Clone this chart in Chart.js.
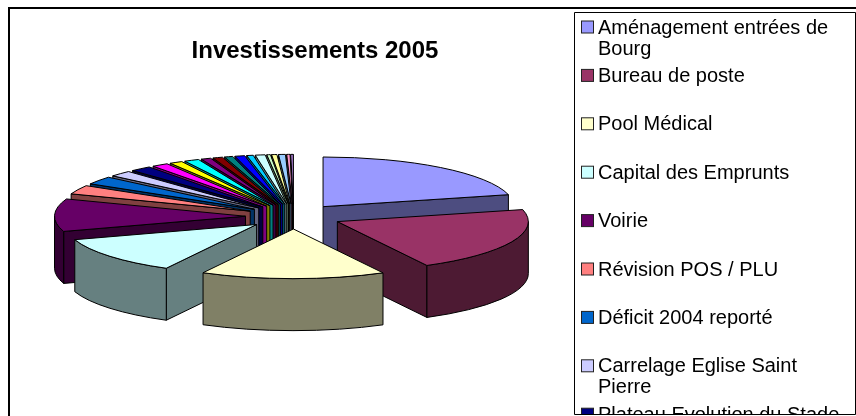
<!DOCTYPE html>
<html lang="fr">
<head>
<meta charset="utf-8">
<title>Investissements 2005</title>
<script src="https://cdn.jsdelivr.net/npm/chart.js@4/dist/chart.umd.min.js"></script>
<style>
  html, body { margin: 0; padding: 0; background: #fff; }
  canvas { display: block; }
</style>
</head>
<body>
<canvas id="pieChart" width="856" height="416"></canvas>
<script>
// Legend names that can be read (the legend is cut off after the 9th)
const categories = [
    'Aménagement entrées de Bourg',
    'Bureau de poste',
    'Pool Médical',
    'Capital des Emprunts',
    'Voirie',
    'Révision POS / PLU',
    'Déficit 2004 reporté',
    'Carrelage Eglise Saint Pierre',
    'Plateau Evolution du Stade'
];

// Share of each slice in percent
const seriesValues = [
    21.1, 21.1, 15.6, 12.2, 10.6, 2.9, 2.6, 1.9, 1.8, 1.4, 1.1, 1.25,
    0.83, 0.83, 0.7, 0.83, 0.55, 0.83, 0.3, 0.45, 0.58, 0.28, 0.2
];

const sliceColors = [
    '#9999FF', '#993366', '#FFFFCC', '#CCFFFF', '#660066', '#FF8080',
    '#0066CC', '#CCCCFF', '#000080', '#FF00FF', '#FFFF00', '#00FFFF',
    '#800080', '#800000', '#008080', '#0000FF', '#00CCFF', '#CCFFFF',
    '#CCFFCC', '#FFFF99', '#99CCFF', '#FF99CC', '#CC99FF'
];

// Half brightness colour for the side walls
function darken(hex) {
    const n = parseInt(hex.slice(1), 16);
    const r = Math.round((n >> 16) / 2);
    const g = Math.round(((n >> 8) & 255) / 2);
    const b = Math.round((n & 255) / 2);
    return `rgb(${r},${g},${b})`;
}

function wrapText(ctx, text, maxWidth) {
    const lines = [];
    let line = '';
    text.split(' ').forEach((word) => {
        const next = line ? line + ' ' + word : word;
        if (line && ctx.measureText(next).width > maxWidth) {
            lines.push(line);
            line = word;
        } else {
            line = next;
        }
    });
    lines.push(line);
    return lines;
}

// Tilts the library's arcs into an exploded 3D pie
const pie3dPlugin = {
    id: 'pie3d',
    beforeDatasetsDraw(chart, args, opts) {
        const ctx = chart.ctx;
        const k = opts.tilt;
        const arcs = chart.getDatasetMeta(0).data.map((el) => {
            const p = el.getProps(['startAngle', 'endAngle', 'outerRadius']);
            const mid = (p.startAngle + p.endAngle) / 2;
            const off = el.options.offset;
            return {
                s: p.startAngle,
                e: p.endAngle,
                r: p.outerRadius,
                x: opts.centerX + Math.cos(mid) * off,
                y: opts.centerY + Math.sin(mid) * off * k,
                color: el.options.backgroundColor
            };
        });

        // back slices first
        arcs.sort((a, b) => a.y - b.y);

        ctx.save();
        ctx.strokeStyle = '#000';
        ctx.lineWidth = 1;
        ctx.lineJoin = 'round';
        arcs.forEach((a) => {
            const wall = darken(a.color);
            const radial = (angle) => {
                const px = a.x + Math.cos(angle) * a.r;
                const py = a.y + Math.sin(angle) * a.r * k;
                ctx.beginPath();
                ctx.moveTo(a.x, a.y);
                ctx.lineTo(px, py);
                ctx.lineTo(px, py + opts.depth);
                ctx.lineTo(a.x, a.y + opts.depth);
                ctx.closePath();
                ctx.fillStyle = wall;
                ctx.fill();
                ctx.stroke();
            };
            if (Math.cos(a.s) < 0) radial(a.s);
            if (Math.cos(a.e) > 0) radial(a.e);

            // outer wall, only the part facing the viewer
            const from = Math.max(a.s, 0);
            const to = Math.min(a.e, Math.PI);
            if (from < to) {
                ctx.beginPath();
                ctx.ellipse(a.x, a.y, a.r, a.r * k, 0, from, to);
                ctx.ellipse(a.x, a.y + opts.depth, a.r, a.r * k, 0, to, from, true);
                ctx.closePath();
                ctx.fillStyle = wall;
                ctx.fill();
                ctx.stroke();
            }

            // top face
            ctx.beginPath();
            ctx.moveTo(a.x, a.y);
            ctx.ellipse(a.x, a.y, a.r, a.r * k, 0, a.s, a.e);
            ctx.closePath();
            ctx.fillStyle = a.color;
            ctx.fill();
            ctx.stroke();
        });
        ctx.restore();
        return false; // already drawn
    }
};

// Chart frame and the legend box, cut off at its bottom edge like the original
const framePlugin = {
    id: 'frame',
    beforeDraw(chart) {
        const ctx = chart.ctx;
        ctx.save();
        ctx.strokeStyle = '#000';
        ctx.lineWidth = 2;
        ctx.beginPath();
        ctx.moveTo(9, 416);
        ctx.lineTo(9, 8);
        ctx.lineTo(856, 8);
        ctx.stroke();
        ctx.restore();
    },
    afterDraw(chart) {
        const ctx = chart.ctx;
        ctx.save();
        ctx.fillStyle = '#fff';
        ctx.strokeStyle = '#000';
        ctx.lineWidth = 1;
        ctx.fillRect(575, 12, 280, 402);
        ctx.beginPath();
        ctx.rect(575, 12, 280, 402);
        ctx.clip();

        ctx.font = '20px "Liberation Sans", Arial, sans-serif';
        ctx.textBaseline = 'middle';
        categories.forEach((name, i) => {
            const rowY = 27 + i * 48.4;
            ctx.fillStyle = sliceColors[i];
            ctx.fillRect(581.5, rowY - 6, 12, 12);
            ctx.strokeStyle = '#222';
            ctx.strokeRect(581.5, rowY - 6, 12, 12);
            ctx.fillStyle = '#000';
            wrapText(ctx, name, 250).forEach((line, n) => {
                ctx.fillText(line, 598, rowY + 1 + n * 21);
            });
        });
        ctx.restore();

        ctx.save();
        ctx.strokeStyle = '#000';
        ctx.lineWidth = 1;
        ctx.beginPath();
        ctx.moveTo(574.5, 414.5);
        ctx.lineTo(574.5, 12.5);
        ctx.lineTo(855.5, 12.5);
        ctx.lineTo(855.5, 414.5);
        ctx.closePath();
        ctx.stroke();
        ctx.restore();
    }
};

Chart.defaults.font.family = '"Liberation Sans", Arial, sans-serif';
Chart.defaults.color = '#000';

new Chart(document.getElementById('pieChart'), {
    type: 'pie',
    data: {
        labels: categories,
        datasets: [{
            data: seriesValues,
            backgroundColor: sliceColors,
            borderColor: '#000',
            borderWidth: 1,
            offset: 48,
            radius: 191
        }]
    },
    plugins: [framePlugin, pie3dPlugin],
    options: {
        responsive: false,
        animation: false,
        layout: { padding: { right: 226 } },
        plugins: {
            legend: { display: false },
            tooltip: { enabled: false },
            title: {
                display: true,
                text: 'Investissements 2005',
                font: { size: 24, weight: 'bold' },
                padding: { top: 37, bottom: 10 }
            },
            pie3d: { centerX: 293.5, centerY: 216.5, tilt: 0.26, depth: 52 }
        }
    }
});
</script>
</body>
</html>
